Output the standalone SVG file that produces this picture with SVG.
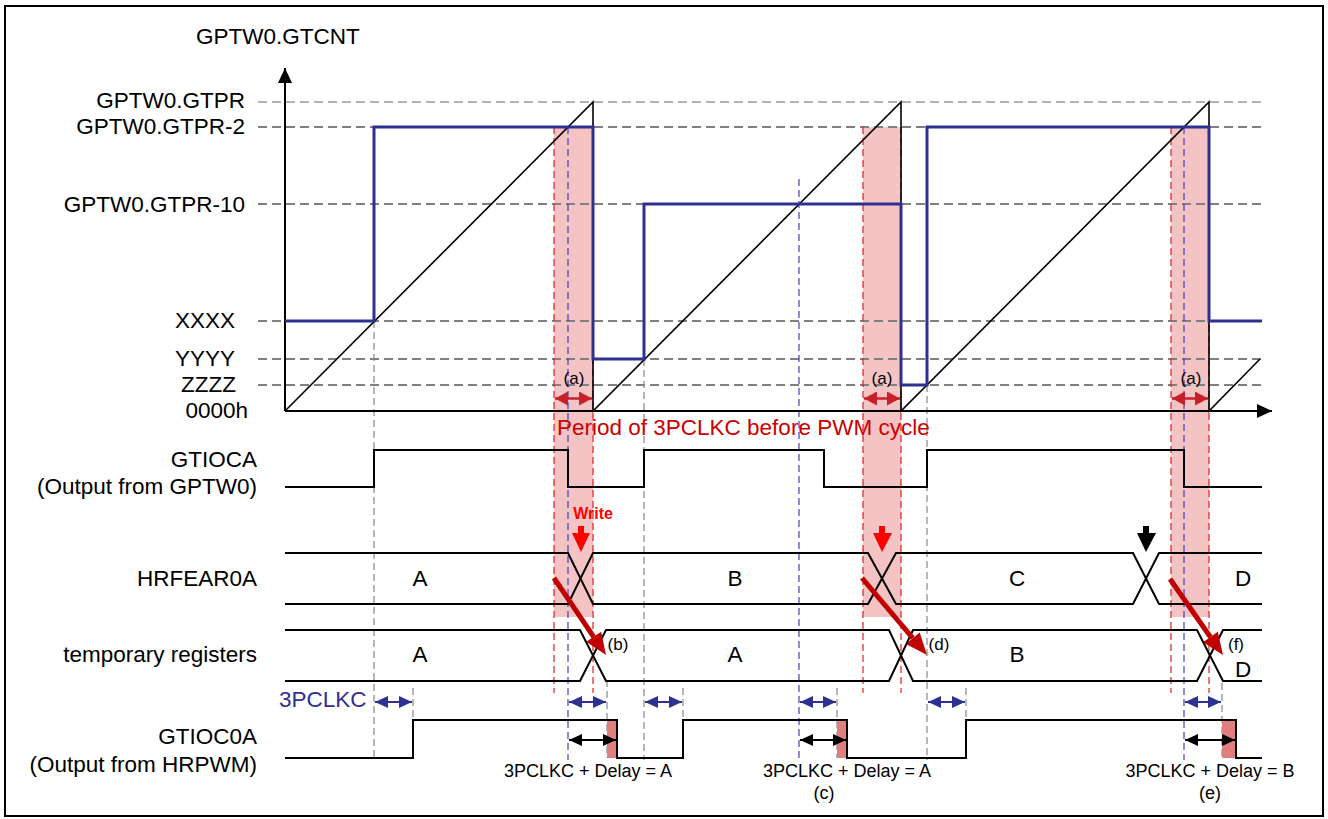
<svg xmlns="http://www.w3.org/2000/svg" width="1328" height="819" viewBox="0 0 1328 819">
<style>
text{font-family:"Liberation Sans",Arial,sans-serif;fill:#000}
.lbl{font-size:22.5px}
.end{text-anchor:end}
.mid{text-anchor:middle}
.small{font-size:18px}
.tag{font-size:17px}
.lvl{fill:none;stroke:#808080;stroke-width:2;stroke-dasharray:9 5}
.lvlthin{fill:none;stroke:#999;stroke-width:1.3;stroke-dasharray:9 5}
.gdash{fill:none;stroke:#888;stroke-width:1.2;stroke-dasharray:7 4}
.rdash{fill:none;stroke:#E02020;stroke-width:1.2;stroke-dasharray:7 4}
.bdash{fill:none;stroke:#4040C0;stroke-width:1.2;stroke-dasharray:7 4}
.wave{fill:none;stroke:#000;stroke-width:2}
.cmp{fill:none;stroke:#2E3192;stroke-width:3}
.pink{fill:#E57373;fill-opacity:0.42}
.delay{fill:#DF7F7F}
.barr{stroke:#2E3192;stroke-width:2;marker-start:url(#mb);marker-end:url(#mb)}
.karr{stroke:#000;stroke-width:2;marker-start:url(#mk);marker-end:url(#mk)}
.aarr{stroke:#C8202A;stroke-width:2.5;marker-start:url(#ma);marker-end:url(#ma)}
.bigr{stroke:#C00000;stroke-width:5;marker-end:url(#mr)}
</style>
<defs>
<marker id="mb" markerUnits="userSpaceOnUse" markerWidth="14" markerHeight="12" refX="13" refY="6" orient="auto-start-reverse"><path d="M0,0 L13,6 L0,12 z" fill="#2E3192"/></marker>
<marker id="mk" markerUnits="userSpaceOnUse" markerWidth="14" markerHeight="12" refX="13" refY="6" orient="auto-start-reverse"><path d="M0,0 L13,6 L0,12 z" fill="#000"/></marker>
<marker id="ma" markerUnits="userSpaceOnUse" markerWidth="14" markerHeight="14" refX="13" refY="7" orient="auto-start-reverse"><path d="M0,0 L13,7 L0,14 z" fill="#C8202A"/></marker>
<marker id="mr" markerUnits="userSpaceOnUse" markerWidth="24" markerHeight="20" refX="0" refY="10" orient="auto" overflow="visible"><path d="M0,1 L22,10 L0,19 z" fill="#C00000"/></marker>
<marker id="max" markerUnits="userSpaceOnUse" markerWidth="16" markerHeight="14" refX="15" refY="7" orient="auto"><path d="M0,0 L15,7 L0,14 z" fill="#000"/></marker>
</defs>
<rect x="5" y="6" width="1318" height="810" fill="#fff" stroke="#000" stroke-width="2"/>

<g id="highlight">
<rect class="pink" x="554" y="127" width="39" height="490"/>
<rect class="pink" x="863" y="127" width="38" height="490"/>
<rect class="pink" x="1171" y="127" width="38" height="490"/>
</g>

<g id="levels">
<line class="lvlthin" x1="258" y1="102" x2="1262" y2="102"/>
<line class="lvl" x1="258" y1="127" x2="1262" y2="127"/>
<line class="lvl" x1="258" y1="204" x2="1262" y2="204"/>
<line class="lvl" x1="258" y1="321" x2="1262" y2="321"/>
<line class="lvl" x1="258" y1="359" x2="1262" y2="359"/>
<line class="lvl" x1="258" y1="385" x2="1262" y2="385"/>
</g>

<g id="guides">
<line class="gdash" x1="374" y1="321" x2="374" y2="760"/>
<line class="gdash" x1="644" y1="359" x2="644" y2="760"/>
<line class="gdash" x1="927" y1="385" x2="927" y2="760"/>
<line class="gdash" x1="413" y1="688" x2="413" y2="720"/>
<line class="gdash" x1="607" y1="680" x2="607" y2="758"/>
<line class="gdash" x1="683" y1="688" x2="683" y2="720"/>
<line class="gdash" x1="837" y1="688" x2="837" y2="758"/>
<line class="gdash" x1="966" y1="688" x2="966" y2="720"/>
<line class="gdash" x1="1222" y1="683" x2="1222" y2="758"/>
<line class="rdash" x1="554" y1="127" x2="554" y2="693"/>
<line class="rdash" x1="593" y1="127" x2="593" y2="693"/>
<line class="rdash" x1="863" y1="127" x2="863" y2="693"/>
<line class="rdash" x1="901" y1="127" x2="901" y2="693"/>
<line class="rdash" x1="1171" y1="127" x2="1171" y2="693"/>
<line class="rdash" x1="1209" y1="127" x2="1209" y2="693"/>
<line class="bdash" x1="568" y1="127" x2="568" y2="760"/>
<line class="bdash" x1="799" y1="179" x2="799" y2="760"/>
<line class="bdash" x1="1184" y1="127" x2="1184" y2="760"/>
</g>

<g id="axes">
<line x1="285" y1="411" x2="285" y2="68" stroke="#000" stroke-width="2" marker-end="url(#max)"/>
<line x1="285" y1="411" x2="1272" y2="411" stroke="#000" stroke-width="2" marker-end="url(#max)"/>
</g>

<g id="counter">
<path class="wave" style="stroke-width:1.6" d="M285,411 L593,102 V411 L901,102 V411 L1209,102 V411 L1260,359"/>
</g>
<g id="compare">
<path class="cmp" d="M285,321 H374 V127 H593 V359 H644 V204 H901 V385 H927 V127 H1209 V321 H1262"/>
</g>

<g id="level-labels">
<text class="lbl" x="196" y="44">GPTW0.GTCNT</text>
<text class="lbl end" x="245" y="108">GPTW0.GTPR</text>
<text class="lbl end" x="245" y="134">GPTW0.GTPR-2</text>
<text class="lbl end" x="245" y="212">GPTW0.GTPR-10</text>
<text class="lbl end" x="235" y="328">XXXX</text>
<text class="lbl end" x="235" y="366">YYYY</text>
<text class="lbl end" x="236" y="392">ZZZZ</text>
<text class="lbl end" x="248" y="418">0000h</text>
</g>

<g id="period-a">
<line class="aarr" x1="555" y1="398.5" x2="592" y2="398.5"/>
<line class="aarr" x1="864" y1="398.5" x2="900" y2="398.5"/>
<line class="aarr" x1="1172" y1="398.5" x2="1208" y2="398.5"/>
<text class="tag mid" x="574" y="384">(a)</text>
<text class="tag mid" x="882" y="384">(a)</text>
<text class="tag mid" x="1191" y="384">(a)</text>
<text x="557" y="435" style="font-size:22.5px;fill:#CC0000">Period of 3PCLKC before PWM cycle</text>
</g>

<g id="gtioca">
<text class="lbl end" x="257" y="467">GTIOCA</text>
<text class="lbl end" x="257" y="494">(Output from GPTW0)</text>
<path class="wave" d="M285,487 H374 V450 H568 V487 H644 V450 H824 V487 H927 V450 H1184 V487 H1262"/>
</g>

<g id="hrfear0a">
<text class="lbl end" x="257" y="586">HRFEAR0A</text>
<path class="wave" d="M285,553 H568 L593,604 H868 L896,553 H1133 L1159,604 H1262"/>
<path class="wave" d="M285,604 H568 L593,553 H868 L896,604 H1133 L1159,553 H1262"/>
<text class="lbl mid" x="420" y="586">A</text>
<text class="lbl mid" x="735" y="586">B</text>
<text class="lbl mid" x="1017" y="586">C</text>
<text class="lbl mid" x="1243" y="586">D</text>
</g>

<g id="write-arrows">
<text x="593" y="519" class="mid" style="font-size:16px;font-weight:bold;fill:#FF0000">Write</text>
<rect x="578" y="526" width="6" height="8" fill="#FF0000"/>
<path d="M572,533 H590 L581,552 z" fill="#FF0000"/>
<rect x="879" y="526" width="6" height="8" fill="#FF0000"/>
<path d="M873,533 H892 L882,552 z" fill="#FF0000"/>
<rect x="1143" y="526" width="6" height="8" fill="#000"/>
<path d="M1137,533 H1156 L1146,552 z" fill="#000"/>
</g>

<g id="temp-regs">
<text class="lbl end" x="257" y="662">temporary registers</text>
<path class="wave" d="M285,630 H580 L606,681 H889 L913,630 H1197 L1223,681 H1262"/>
<path class="wave" d="M285,681 H580 L606,630 H889 L913,681 H1197 L1223,630 H1262"/>
<text class="lbl mid" x="420" y="662">A</text>
<text class="lbl mid" x="735" y="662">A</text>
<text class="lbl mid" x="1017" y="662">B</text>
<text class="lbl mid" x="1243" y="677">D</text>
<text class="tag mid" x="618" y="650">(b)</text>
<text class="tag mid" x="939" y="650">(d)</text>
<text class="tag mid" x="1236" y="650">(f)</text>
</g>

<g id="transfer-arrows">
<line class="bigr" x1="554" y1="578" x2="593.7" y2="636.8"/>
<line class="bigr" x1="862" y1="578" x2="912.8" y2="638.2"/>
<line class="bigr" x1="1170" y1="579" x2="1210.4" y2="637"/>
</g>

<g id="pclkc">
<text class="lbl" x="279" y="707" style="fill:#2E3192">3PCLKC</text>
<line class="barr" x1="375" y1="702" x2="412" y2="702"/>
<line class="barr" x1="569" y1="702" x2="606" y2="702"/>
<line class="barr" x1="645" y1="702" x2="682" y2="702"/>
<line class="barr" x1="800" y1="702" x2="836" y2="702"/>
<line class="barr" x1="928" y1="702" x2="965" y2="702"/>
<line class="barr" x1="1185" y1="702" x2="1221" y2="702"/>
</g>

<g id="gtioc0a">
<text class="lbl end" x="257" y="744">GTIOC0A</text>
<text class="lbl end" x="257" y="772">(Output from HRPWM)</text>
<rect class="delay" x="607" y="720" width="10" height="38"/>
<rect class="delay" x="837" y="720" width="10" height="38"/>
<rect class="delay" x="1222" y="720" width="14" height="38"/>
<path class="wave" d="M285,758 H413 V720 H617 V758 H683 V720 H847 V758 H966 V720 H1236 V758 H1262"/>
<line class="karr" x1="569" y1="740" x2="616" y2="740"/>
<line class="karr" x1="800" y1="740" x2="846" y2="740"/>
<line class="karr" x1="1185" y1="740" x2="1235" y2="740"/>
<text class="small mid" x="588" y="777">3PCLKC + Delay = A</text>
<text class="small mid" x="847" y="777">3PCLKC + Delay = A</text>
<text class="small mid" x="1210" y="777">3PCLKC + Delay = B</text>
<text class="small mid" x="824" y="799">(c)</text>
<text class="small mid" x="1210" y="799">(e)</text>
</g>
</svg>
